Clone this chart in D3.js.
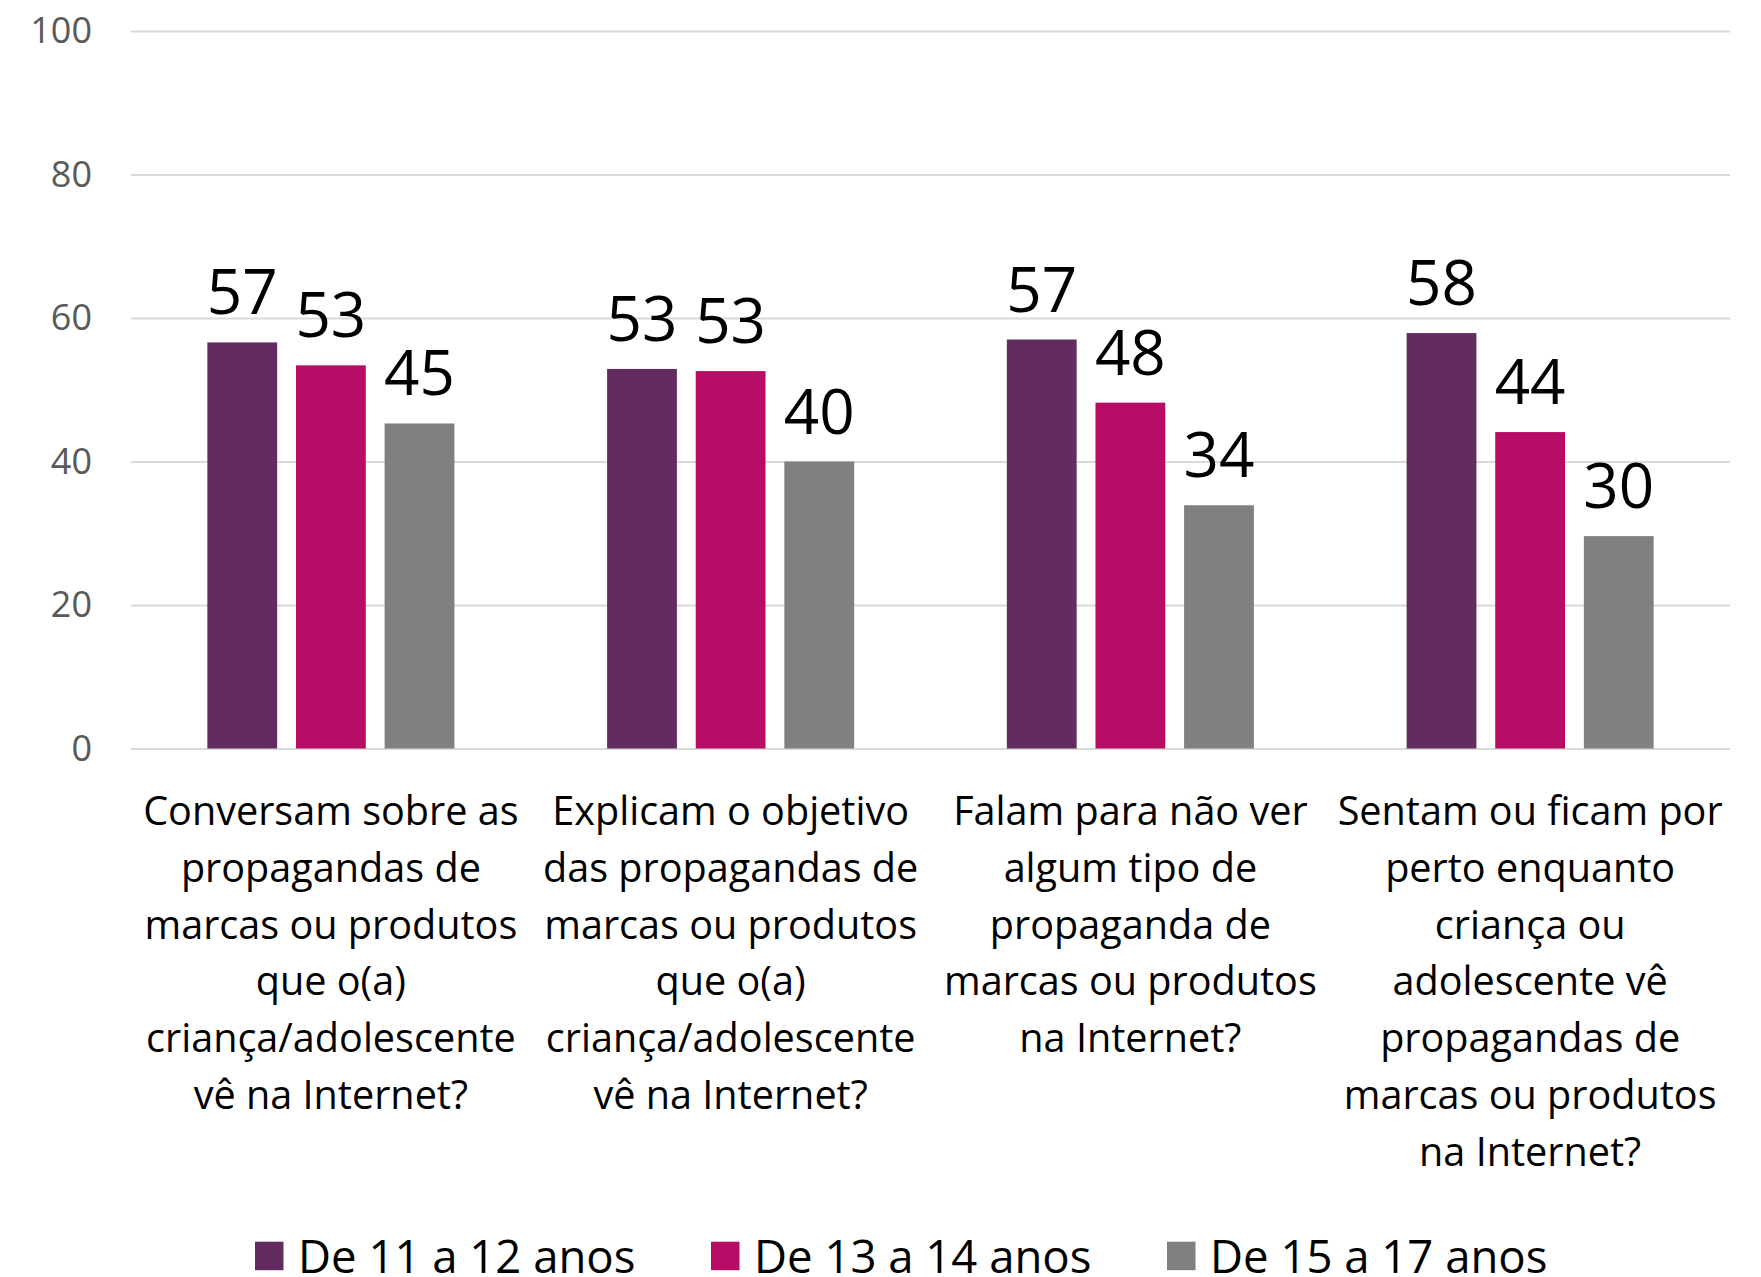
<!DOCTYPE html>
<html>
<head>
<meta charset="utf-8">
<script src="https://cdn.jsdelivr.net/npm/d3@7"></script>
<style>
  html, body { margin: 0; padding: 0; background: #ffffff; }
  svg { display: block; }
  text { font-family: "Open Sans", "Noto Sans", sans-serif; }
</style>
</head>
<body>
<svg id="chart" width="1761" height="1277"></svg>
<script>
// ---- data ----
const categories = [
  ["Conversam sobre as", "propagandas de", "marcas ou produtos", "que o(a)", "criança/adolescente", "vê na Internet?"],
  ["Explicam o objetivo", "das propagandas de", "marcas ou produtos", "que o(a)", "criança/adolescente", "vê na Internet?"],
  ["Falam para não ver", "algum tipo de", "propaganda de", "marcas ou produtos", "na Internet?"],
  ["Sentam ou ficam por", "perto enquanto", "criança ou", "adolescente vê", "propagandas de", "marcas ou produtos", "na Internet?"]
];
const seriesNames = ["De 11 a 12 anos", "De 13 a 14 anos", "De 15 a 17 anos"];
const series11a12 = [56.6, 52.9, 57.0, 57.9];
const series13a14 = [53.4, 52.6, 48.2, 44.1];
const series15a17 = [45.3, 40.0, 33.9, 29.6];
const yTicks = [0, 20, 40, 60, 80, 100];
const colors = ["#632C61", "#B70B66", "#808080"];

const seriesValues = [series11a12, series13a14, series15a17];

// ---- layout ----
const svg = d3.select("#chart");
const plotLeft = 131, plotRight = 1730, plotTop = 31, plotBottom = 748.5;

const x0 = d3.scaleBand()
  .domain(d3.range(categories.length))
  .range([plotLeft, plotRight])
  .paddingInner(0.382)
  .paddingOuter(0.191);

const x1 = d3.scaleBand()
  .domain(d3.range(seriesNames.length))
  .range([0, x0.bandwidth()])
  .paddingInner(0.2124)
  .paddingOuter(0);

const y = d3.scaleLinear().domain([0, 100]).range([plotBottom, plotTop]);

// gridlines
const yAxis = d3.axisLeft(y)
  .tickValues(yTicks)
  .tickSize(-(plotRight - plotLeft))
  .tickPadding(39)
  .tickFormat(d3.format("d"));

const gAxis = svg.append("g")
  .attr("transform", `translate(${plotLeft},0)`)
  .call(yAxis);
gAxis.select(".domain").remove();
gAxis.selectAll(".tick line")
  .attr("stroke", "#d9d9d9")
  .attr("stroke-width", 2);
gAxis.selectAll(".tick text")
  .attr("fill", "#595959")
  .style("font-size", "36px")
  .style("font-family", "'Open Sans', 'Noto Sans', sans-serif");

// bars
const groups = svg.append("g").selectAll("g")
  .data(categories.map((c, i) => ({ i, vals: seriesValues.map(s => s[i]) })))
  .join("g")
  .attr("transform", d => `translate(${x0(d.i)},0)`);

groups.selectAll("rect")
  .data(d => d.vals.map((v, s) => ({ v, s })))
  .join("rect")
  .attr("x", d => x1(d.s))
  .attr("y", d => y(d.v))
  .attr("width", x1.bandwidth())
  .attr("height", d => y(0) - y(d.v))
  .attr("fill", d => colors[d.s]);

// value labels
const fmt = d3.format(".0f");
groups.selectAll("text.val")
  .data(d => d.vals.map((v, s) => ({ v, s })))
  .join("text")
  .attr("class", "val")
  .attr("x", d => x1(d.s) + x1.bandwidth() / 2)
  .attr("y", d => y(d.v) - 28)
  .attr("text-anchor", "middle")
  .attr("fill", "#000000")
  .style("font-size", "62px")
  .text(d => fmt(d.v));

// category labels
const lineH = 56.8;
const catG = svg.append("g").selectAll("text")
  .data(categories)
  .join("text")
  .attr("text-anchor", "middle")
  .attr("fill", "#000000")
  .style("font-size", "39.6px")
  .attr("transform", (d, i) => `translate(${x0(i) + x0.bandwidth() / 2},825)`);
catG.selectAll("tspan")
  .data(d => d)
  .join("tspan")
  .attr("x", 0)
  .attr("y", (d, j) => j * lineH)
  .text(d => d);

// legend
const legendX = d3.scalePoint().domain(seriesNames).range([255, 1167]);
const leg = svg.append("g").selectAll("g")
  .data(seriesNames)
  .join("g")
  .attr("transform", d => `translate(${legendX(d)},0)`);
leg.append("rect")
  .attr("x", 0)
  .attr("y", 1241.7)
  .attr("width", 28.5)
  .attr("height", 28.5)
  .attr("fill", (d, i) => colors[i]);
leg.append("text")
  .attr("x", 43)
  .attr("y", 1272.7)
  .attr("fill", "#000000")
  .style("font-size", "45.5px")
  .text(d => d);
</script>
</body>
</html>
